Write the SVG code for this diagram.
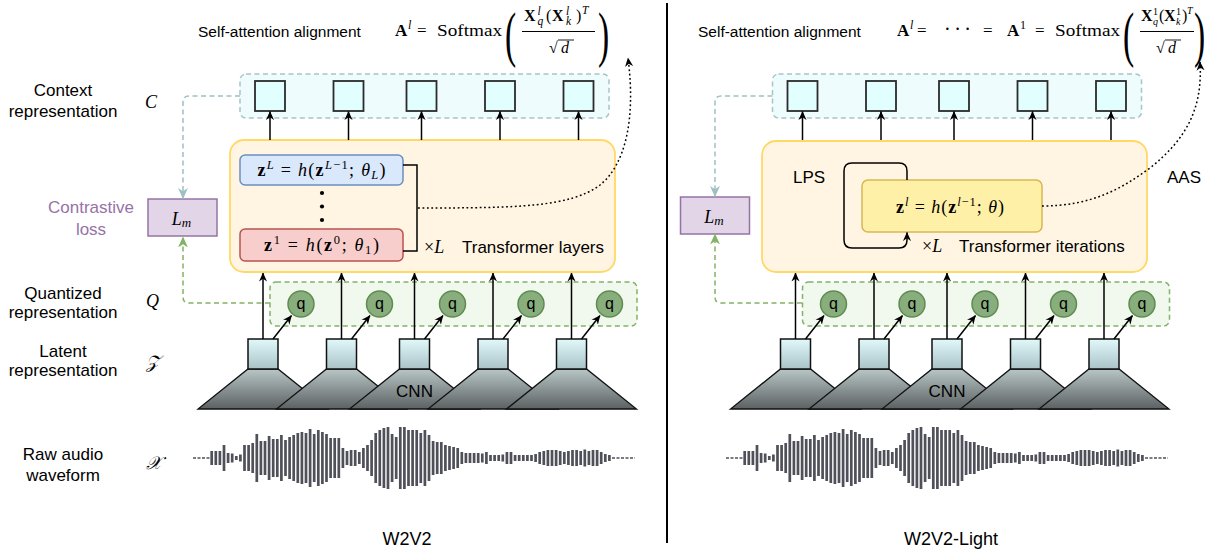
<svg xmlns="http://www.w3.org/2000/svg" width="1215" height="557" viewBox="0 0 1215 557">
<defs>
<style>
.t{font-family:"Liberation Sans",Arial,sans-serif;font-size:17px;fill:#000}
.ts{font-size:15.5px}
.mid{text-anchor:middle}
.m{font-family:"Liberation Serif","Times New Roman",serif;font-size:17px;fill:#000}
.b{font-weight:bold}
.i{font-style:italic}
.big{font-family:"Liberation Serif","Times New Roman",serif;font-size:61px;fill:#000}
.ctx{fill:#EEFCFD;stroke:#A7C4C7;stroke-width:1.5;stroke-dasharray:5 3.5}
.csq{fill:#E1FFFF;stroke:#2B2B2B;stroke-width:1.8}
.qrow{fill:#F1F8EE;stroke:#82B366;stroke-width:1.5;stroke-dasharray:5 3.5}
.qc{fill:#88AE7D;stroke:#5F8C50;stroke-width:1.5}
.lat{fill:url(#gLat);stroke:#111;stroke-width:1.5}
.cnn{fill:url(#gCnn);stroke:#111;stroke-width:1.3}
.tf{fill:#FFF5E2;stroke:#FFD966;stroke-width:1.8}
.lm{fill:#E1D5E7;stroke:#9673A6;stroke-width:1.5}
.ar{fill:none;stroke:#000;stroke-width:1.5;marker-end:url(#ah)}
.dt{fill:none;stroke:#000;stroke-width:1.5;stroke-dasharray:1.8 2.6;marker-end:url(#ah)}
.dc{fill:none;stroke:#9DC0C3;stroke-width:1.5;stroke-dasharray:5 3.5;marker-end:url(#ahc)}
.dg{fill:none;stroke:#82B366;stroke-width:1.5;stroke-dasharray:5 3.5;marker-end:url(#ahg)}
.wv{fill:none;stroke:#50505A;stroke-width:2.7}
.wd{fill:none;stroke:#50505A;stroke-width:1.3;stroke-dasharray:3 1.5}
</style>
<linearGradient id="gLat" x1="0" y1="0" x2="0" y2="1">
<stop offset="0" stop-color="#E2F9FB"/><stop offset="1" stop-color="#A9C3C7"/>
</linearGradient>
<linearGradient id="gCnn" x1="0" y1="0" x2="0" y2="1">
<stop offset="0" stop-color="#B8C6C6"/><stop offset="1" stop-color="#5C6162"/>
</linearGradient>
<marker id="ah" viewBox="0 0 10 10" refX="9.5" refY="5" markerWidth="9" markerHeight="9" orient="auto" markerUnits="userSpaceOnUse">
<path d="M0,0.5 L10,5 L0,9.5 L3,5 z" fill="#000"/>
</marker>
<marker id="ahc" viewBox="0 0 10 10" refX="9.5" refY="5" markerWidth="11" markerHeight="11" orient="auto" markerUnits="userSpaceOnUse">
<path d="M0,0.5 L10,5 L0,9.5 L3,5 z" fill="#9DC0C3"/>
</marker>
<marker id="ahg" viewBox="0 0 10 10" refX="9.5" refY="5" markerWidth="11" markerHeight="11" orient="auto" markerUnits="userSpaceOnUse">
<path d="M0,0.5 L10,5 L0,9.5 L3,5 z" fill="#82B366"/>
</marker>
<!-- audio waveform bars, drawn once and reused for both panels -->
<g id="wave">
<path class="wd" d="M193,458 H210 M612,458 H635"/>
<path class="wv" d="M211.7 451v14M215.8 451v14M219.9 451v14M224 445v26M228.1 453v10M232.2 453.5v9M236.3 456v4M240.4 454.5v7M244.5 445v26M248.6 445v26M252.7 443v30M256.8 434v48M260.9 441v34M265 441v34M269.1 436v44M273.2 439v38M277.3 439v38M281.4 435v46M285.5 440v36M289.6 437v42M293.7 435v46M297.8 433v50M301.9 432v52M306 433v50M310.1 429v58M314.2 434v48M318.3 430v56M322.4 432v52M326.5 434v48M330.6 438v40M334.7 438v40M338.8 438v40M342.9 448v20M347 451v14M351.1 450v16M355.2 450v16M359.3 452v12M363.4 448v20M367.5 445v26M371.6 440v36M375.7 433v50M379.8 430v56M383.9 428v60M388 427v62M392.1 434v48M396.2 437v42M400.3 427v62M404.4 427v62M408.5 430v56M412.6 430v56M416.7 430v56M420.8 433v50M424.9 430v56M429 435v46M433.1 441v34M437.2 442v32M441.3 442v32M445.4 445v26M449.5 446v24M453.6 447v22M457.7 448v20M461.8 452v12M465.9 453v10M470 453v10M474.1 453v10M478.2 453v10M482.3 453.5v9M486.4 452v12M490.5 455v6M494.6 455v6M498.7 455v6M502.8 454.5v7M506.9 452v12M511 452v12M515.1 455v6M519.2 455v6M523.3 455v6M527.4 455v6M531.5 455v6M535.6 454v8M539.7 452v12M543.8 451v14M547.9 450v16M552 450v16M556.1 450v16M560.2 451v14M564.3 452v12M568.4 451v14M572.5 450v16M576.6 450v16M580.7 451v14M584.8 449.5v17M588.9 451v14M593 450v16M597.1 450v16M601.2 452v12M605.3 454v8M609.4 455v6"/>
</g>
<!-- overlapping CNN encoder stacks with latent frames on top -->
<g id="cnnStack">
<polygon class="cnn" points="248,369 278,369 328,409 198,409"/>
<rect class="lat" x="248" y="339" width="30" height="30"/>
<polygon class="cnn" points="326.5,369 356.5,369 406.5,409 276.5,409"/>
<rect class="lat" x="326.5" y="339" width="30" height="30"/>
<polygon class="cnn" points="399.5,369 429.5,369 479.5,409 349.5,409"/>
<rect class="lat" x="399.5" y="339" width="30" height="30"/>
<polygon class="cnn" points="478,369 508,369 558,409 428,409"/>
<rect class="lat" x="478" y="339" width="30" height="30"/>
<polygon class="cnn" points="556.5,369 586.5,369 636.5,409 506.5,409"/>
<rect class="lat" x="556.5" y="339" width="30" height="30"/>
<text class="t mid" x="414.5" y="397">CNN</text>
</g>
<!-- quantizer row -->
<g id="qRow">
<rect class="qrow" x="270" y="282" width="367" height="44" rx="6"/>
<circle class="qc" cx="301" cy="304" r="13"/>
<circle class="qc" cx="379.5" cy="304" r="13"/>
<circle class="qc" cx="452.5" cy="304" r="13"/>
<circle class="qc" cx="531" cy="304" r="13"/>
<circle class="qc" cx="609.5" cy="304" r="13"/>
<g class="t mid" style="font-size:16px">
<text x="301" y="308.5">q</text><text x="379.5" y="308.5">q</text><text x="452.5" y="308.5">q</text><text x="531" y="308.5">q</text><text x="609.5" y="308.5">q</text>
</g>
</g>
<!-- context vectors -->
<g id="ctxRow">
<rect class="ctx" x="240" y="74" width="369" height="44" rx="6"/>
<rect class="csq" x="255" y="81" width="30" height="30"/>
<rect class="csq" x="333.5" y="81" width="30" height="30"/>
<rect class="csq" x="406.5" y="81" width="30" height="30"/>
<rect class="csq" x="485" y="81" width="30" height="30"/>
<rect class="csq" x="563.5" y="81" width="30" height="30"/>
</g>
<!-- contrastive loss box -->
<g id="lmBox">
<rect class="lm" x="148" y="199" width="69" height="37"/>
<text class="m i mid" x="181.5" y="224.5" style="font-size:18px">L<tspan style="font-size:13px" dy="2">m</tspan></text>
</g>
<!-- column arrows: latent to encoder, latent to quantizer, encoder to context -->
<g id="colArrows">
<path class="ar" d="M263,339 V273"/>
<path class="ar" d="M341.5,339 V273"/>
<path class="ar" d="M414.5,339 V273"/>
<path class="ar" d="M493,339 V273"/>
<path class="ar" d="M571.5,339 V273"/>
<path class="ar" d="M273,339 L291.5,315.5"/>
<path class="ar" d="M351.5,339 L370,315.5"/>
<path class="ar" d="M424.5,339 L443,315.5"/>
<path class="ar" d="M503,339 L521.5,315.5"/>
<path class="ar" d="M581.5,339 L600,315.5"/>
<path class="ar" d="M270,140 V111.5"/>
<path class="ar" d="M348.5,140 V111.5"/>
<path class="ar" d="M421.5,140 V111.5"/>
<path class="ar" d="M500,140 V111.5"/>
<path class="ar" d="M578.5,140 V111.5"/>
</g>
</defs>

<!-- row labels -->
<g id="rowLabels" class="t mid">
<text x="63" y="96">Context</text>
<text x="63" y="117">representation</text>
<text x="63" y="299">Quantized</text>
<text x="63" y="318">representation</text>
<text x="63" y="357">Latent</text>
<text x="63" y="376">representation</text>
<text x="63" y="460">Raw audio</text>
<text x="63" y="481">waveform</text>
</g>
<g id="symbolLabels" class="m i" style="font-size:18px">
<text x="145" y="108">C</text>
<text x="146" y="307">Q</text>
<text x="146" y="368">𝒵</text>
<text x="146" y="469">𝒳</text>
</g>
<g id="lossLabel" class="t mid" style="fill:#9673A6">
<text x="91" y="213">Contrastive</text>
<text x="91" y="235">loss</text>
</g>

<!-- ===== W2V2 panel ===== -->
<g id="w2v2-title">
<text class="t ts" x="198" y="37">Self-attention alignment</text>
<g class="m">
<text class="b" x="395" y="36">A</text>
<text class="i" x="408" y="29" style="font-size:12px">l</text>
<text x="417" y="36">=</text>
<text x="437" y="36" textLength="65" lengthAdjust="spacingAndGlyphs">Softmax</text>
<text class="big" transform="translate(505,55) scale(0.55,1)">(</text>
<text class="b" x="524" y="21" style="font-size:16px">X</text>
<text class="i" x="537.5" y="15" style="font-size:11.5px">l</text>
<text class="i" x="537.5" y="25" style="font-size:11.5px">q</text>
<text x="546" y="21" style="font-size:16px">(</text>
<text class="b" x="552" y="21" style="font-size:16px">X</text>
<text class="i" x="566" y="15" style="font-size:11.5px">l</text>
<text class="i" x="566" y="25" style="font-size:11.5px">k</text>
<text x="576" y="21" style="font-size:16px">)</text>
<text class="i" x="582" y="14" style="font-size:11.5px">T</text>
<line x1="522" y1="31.5" x2="595" y2="31.5" stroke="#000" stroke-width="1"/>
<text x="549" y="53" style="font-size:16px">√</text>
<line x1="558" y1="40" x2="574" y2="40" stroke="#000" stroke-width="0.9"/>
<text class="i" x="561" y="53" style="font-size:16px">d</text>
<text class="big" transform="translate(598,55) scale(0.55,1)">)</text>
</g>
</g>

<use id="w2v2-context" href="#ctxRow"/>

<g id="w2v2-transformer">
<rect class="tf" x="230" y="140" width="385" height="132" rx="14"/>
</g>
<g id="w2v2-layerL">
<rect x="240" y="155" width="163" height="30" rx="5" fill="#DAE8FC" stroke="#6C8EBF" stroke-width="1.5"/>
<text class="m mid" x="321.5" y="176" style="font-size:18px" textLength="128" lengthAdjust="spacing"><tspan class="b">z</tspan><tspan class="i" style="font-size:12.5px" dy="-7">L</tspan><tspan dy="7"> = </tspan><tspan class="i">h</tspan><tspan>(</tspan><tspan class="b">z</tspan><tspan style="font-size:12.5px" dy="-7"><tspan class="i">L</tspan>−1</tspan><tspan dy="7">; </tspan><tspan class="i">θ</tspan><tspan class="i" style="font-size:12.5px" dy="3">L</tspan><tspan dy="-3">)</tspan></text>
</g>
<g id="w2v2-dots">
<circle cx="322" cy="193" r="2.1"/><circle cx="322" cy="206.5" r="2.1"/><circle cx="322" cy="220" r="2.1"/>
</g>
<g id="w2v2-layer1">
<rect x="240" y="229" width="163" height="32" rx="5" fill="#F8CECC" stroke="#B85450" stroke-width="1.5"/>
<text class="m mid" x="321.5" y="251" style="font-size:18px" textLength="115" lengthAdjust="spacing"><tspan class="b">z</tspan><tspan style="font-size:12.5px" dy="-7">1</tspan><tspan dy="7"> = </tspan><tspan class="i">h</tspan><tspan>(</tspan><tspan class="b">z</tspan><tspan style="font-size:12.5px" dy="-7">0</tspan><tspan dy="7">; </tspan><tspan class="i">θ</tspan><tspan style="font-size:12.5px" dy="3">1</tspan><tspan dy="-3">)</tspan></text>
</g>
<g id="w2v2-repeat">
<text class="m" x="424" y="253" style="font-size:18px">×<tspan class="i">L</tspan></text>
<text class="t" x="462" y="253">Transformer layers</text>
</g>

<use id="w2v2-quantizer" href="#qRow"/>
<use id="w2v2-cnn" href="#cnnStack"/>
<use id="w2v2-lm" href="#lmBox"/>
<use id="w2v2-wave" href="#wave"/>

<g id="w2v2-connectors">
<use href="#colArrows"/>
<path d="M403,165 H417 V251 H403" fill="none" stroke="#000" stroke-width="1.5"/>
<path class="dt" d="M418,208 C520,208 570,207 600,185 C625,165 636,120 628,58"/>
<path class="dc" d="M240,96 H189 Q183,96 183,102 V198.5"/>
<path class="dg" d="M270,303 H189 Q183,303 183,297 V237"/>
</g>

<g id="w2v2-name"><text class="t mid" x="407" y="545" style="font-size:18px">W2V2</text></g>

<!-- divider -->
<line id="divider" x1="667" y1="3" x2="667" y2="543" stroke="#000" stroke-width="2"/>

<!-- ===== W2V2-Light panel ===== -->
<g id="light-title">
<text class="t ts" x="698" y="37">Self-attention alignment</text>
<g class="m">
<text class="b" x="897" y="36">A</text>
<text class="i" x="910" y="29" style="font-size:12px">l</text>
<text x="917" y="36">=</text>
<text x="944" y="36" textLength="27" lengthAdjust="spacing" style="font-size:20px">···</text>
<text x="983" y="36">=</text>
<text class="b" x="1007" y="36">A</text>
<text x="1020" y="29" style="font-size:12px">1</text>
<text x="1035" y="36">=</text>
<text x="1055" y="36" textLength="65" lengthAdjust="spacingAndGlyphs">Softmax</text>
<text class="big" transform="translate(1123,55) scale(0.55,1)">(</text>
<text class="b" x="1141" y="21" style="font-size:16px">X</text>
<text x="1153" y="15" style="font-size:10px">1</text>
<text class="i" x="1153" y="25" style="font-size:10px">q</text>
<text x="1159" y="21" style="font-size:16px">(</text>
<text class="b" x="1164" y="21" style="font-size:16px">X</text>
<text x="1176" y="15" style="font-size:10px">1</text>
<text class="i" x="1176" y="25" style="font-size:10px">k</text>
<text x="1182" y="21" style="font-size:16px">)</text>
<text class="i" x="1187" y="14" style="font-size:10px">T</text>
<line x1="1140" y1="31.5" x2="1194" y2="31.5" stroke="#000" stroke-width="1"/>
<text x="1156" y="53" style="font-size:16px">√</text>
<line x1="1165" y1="40" x2="1181" y2="40" stroke="#000" stroke-width="0.9"/>
<text class="i" x="1168" y="53" style="font-size:16px">d</text>
<text class="big" transform="translate(1194,55) scale(0.55,1)">)</text>
</g>
</g>

<use id="light-context" href="#ctxRow" x="532.5"/>

<g id="light-transformer">
<rect class="tf" x="762" y="141" width="385" height="131" rx="14"/>
<text class="t" x="793" y="183">LPS</text>
</g>
<g id="light-shared-layer">
<rect x="862" y="180" width="180" height="52" rx="6" fill="#FFF0A8" stroke="#D6B656" stroke-width="1.5"/>
<text class="m mid" x="950" y="213" style="font-size:18px" textLength="108" lengthAdjust="spacing"><tspan class="b">z</tspan><tspan class="i" style="font-size:12.5px" dy="-7">l</tspan><tspan dy="7"> = </tspan><tspan class="i">h</tspan><tspan>(</tspan><tspan class="b">z</tspan><tspan style="font-size:12.5px" dy="-7"><tspan class="i">l</tspan>−1</tspan><tspan dy="7">; </tspan><tspan class="i">θ</tspan><tspan>)</tspan></text>
</g>
<g id="light-repeat">
<text class="m" x="922" y="252" style="font-size:18px">×<tspan class="i">L</tspan></text>
<text class="t" x="959" y="252">Transformer iterations</text>
</g>
<g id="light-aas"><text class="t" x="1167" y="183">AAS</text></g>

<use id="light-quantizer" href="#qRow" x="532.5"/>
<use id="light-cnn" href="#cnnStack" x="532.5"/>
<use id="light-lm" href="#lmBox" x="532.5" y="-2"/>
<use id="light-wave" href="#wave" x="533"/>

<g id="light-connectors">
<use href="#colArrows" x="532.5"/>
<path class="ar" d="M907,180 V171 Q907,163 899,163 H852 Q844,163 844,171 V240 Q844,248 852,248 H899 Q907,248 907,240 V232.5"/>
<path class="dt" d="M1042,206 C1090,206 1120,190 1150,168 C1185,140 1203,110 1200,62"/>
<path class="dc" d="M772.5,96 H721 Q715,96 715,102 V196.5"/>
<path class="dg" d="M802,303 H721 Q715,303 715,297 V234"/>
</g>

<g id="light-name"><text class="t mid" x="951" y="545" style="font-size:18px">W2V2-Light</text></g>
</svg>
